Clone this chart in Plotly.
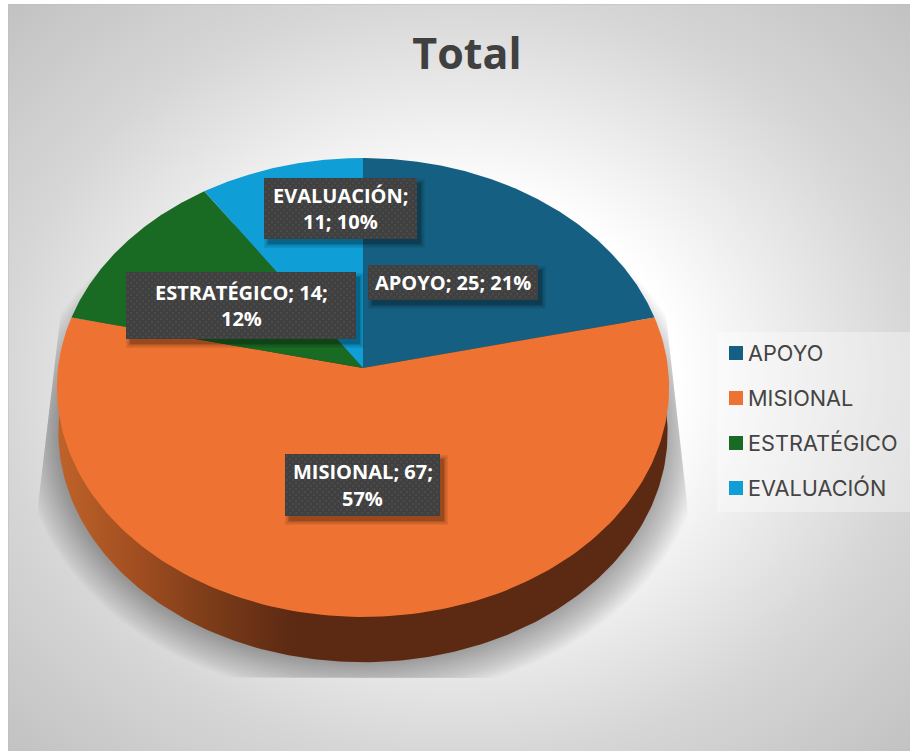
import numpy as np
import plotly.graph_objects as go

# ---- data ----
categories = ["APOYO", "MISIONAL", "ESTRATÉGICO", "EVALUACIÓN"]
values = [25, 67, 14, 11]
percents = [21, 57, 12, 10]
colors = ["#156082", "#EE7332", "#196B24", "#0F9ED5"]
title_text = "Total"
label_lines = [
    ["APOYO; 25; 21%"],
    ["MISIONAL; 67;", "57%"],
    ["ESTRATÉGICO; 14;", "12%"],
    ["EVALUACIÓN;", "11; 10%"],
]
# label box extents (left, right, top, bottom) on the pixel-like axes
label_boxes = [
    (368, 538, 265, 300),
    (285, 440, 454, 516),
    (126, 356, 272, 339),
    (264, 417, 178, 239),
]

# ---- layout constants ----
W, H = 910, 751
PX0, PY0 = 8, 4
CX, CY = 363, 368       # pie apex
BX, AY, K = 305.0, 227.8, -0.085   # perspective projection of the disc
BX2, AY2, YB = 303.5, 228.0, 413.0  # rim of the lower edge
LABEL_FONT = "Open Sans"
LEG_FONT = "Inter"
LINE_GAP = 26.5


def proj(theta, bx=BX, ay=AY, y0=CY, r=1.0):
    """theta clockwise from 12 o'clock, r in disc units; returns axis coords."""
    u = r * np.sin(theta)
    v = -r * np.cos(theta)
    d = 1 + K * v
    return CX + bx * u / d, y0 + ay * v / d


def poly(xs, ys, color, **kw):
    return go.Scatter(x=xs, y=ys, mode="lines", fill="toself", fillcolor=color,
                      line=dict(width=0), hoverinfo="skip", showlegend=False, **kw)


fig = go.Figure()

# background gradient panel
cx_bg, cy_bg = (PX0 + W) / 2, (PY0 + H) / 2
hw, hh = (W - PX0) / 2 * 2**0.5, (H - PY0) / 2 * 2**0.5
fig.add_trace(go.Scatter(
    x=[cx_bg - hw, cx_bg + hw, cx_bg + hw, cx_bg - hw, cx_bg - hw],
    y=[cy_bg - hh, cy_bg - hh, cy_bg + hh, cy_bg + hh, cy_bg - hh],
    mode="lines", line=dict(width=0), fill="toself", hoverinfo="skip", showlegend=False,
    fillgradient=dict(type="radial",
                      colorscale=[[0, "#FFFFFF"], [0.34, "#FFFFFF"], [0.72, "#D6D6D6"], [1, "#C2C2C2"]]),
))

# soft shadow under the pie, clipped by a trapezoid
th = np.linspace(0, 2 * np.pi, 361)
for k in np.linspace(36, 1, 18):
    sx, sy = proj(th, bx=BX2 + k, ay=AY2 + k * 0.92, y0=YB)
    sy = np.minimum(sy, 678)
    left = np.where(sy >= 505, 38, 38 + (505 - sy) * 15 / 127)
    right = np.where(sy >= 510, 688, 688 - (510 - sy) * 20 / 177)
    sx = np.clip(sx, left, right)
    fig.add_trace(poly(sx, sy, "rgba(0,0,0,0.02)"))

# side wall
wx, wy = proj(th, bx=BX2, ay=AY2, y0=YB)
fig.add_trace(go.Scatter(
    x=wx, y=wy, mode="lines", line=dict(width=0), fill="toself",
    hoverinfo="skip", showlegend=False,
    fillgradient=dict(type="horizontal", start=60, stop=668,
                      colorscale=[[0, "#BE6229"], [0.12, "#A34F21"], [0.24, "#7E3D19"],
                                  [0.38, "#5C2A13"], [1, "#5C2A13"]]),
))

# top face slices, computed from the values
total = sum(values)
start = 0.0
for name, val, col in zip(categories, values, colors):
    end = start + val / total * 2 * np.pi
    t = np.linspace(start, end, 160)
    x, y = proj(t)
    fig.add_trace(poly(np.r_[CX, x, CX], np.r_[CY, y, CY], col, name=name))
    start = end

# data-label boxes: shadow, box, dot texture
for (l, r, t, b) in label_boxes:
    for grow, alpha in [(4, 0.07), (2.5, 0.09), (1, 0.11), (0, 0.14)]:
        fig.add_trace(poly([l + 4 - grow, r + 4 + grow, r + 4 + grow, l + 4 - grow, l + 4 - grow],
                           [t + 5 - grow, t + 5 - grow, b + 5 + grow, b + 5 + grow, t + 5 - grow],
                           f"rgba(0,0,0,{alpha})"))
for (l, r, t, b) in label_boxes:
    fig.add_trace(poly([l, r, r, l, l], [t, t, b, b, t], "#404040"))
dx, dy = [], []
for (l, r, t, b) in label_boxes:
    for row, yy in enumerate(np.arange(t + 2, b, 3.0)):
        for xx in np.arange(l + 2 + (row % 2) * 3, r, 6.0):
            dx.append(float(xx))
            dy.append(float(yy))
fig.add_trace(go.Scatter(x=dx, y=dy, mode="markers", hoverinfo="skip", showlegend=False,
                         marker=dict(symbol="square", size=1.6, color="#525252", line=dict(width=0))))

annots = []
for lines, (l, r, t, b) in zip(label_lines, label_boxes):
    mid = (t + b) / 2
    n = len(lines)
    for i, text in enumerate(lines):
        annots.append(dict(x=(l + r) / 2, y=mid + (i - (n - 1) / 2) * LINE_GAP, xref="x", yref="y", text=text,
                           showarrow=False, xanchor="center", yanchor="middle", align="center",
                           font=dict(family=LABEL_FONT, size=20, color="#FFFFFF", weight="bold")))

# legend panel + entries
leg_y = [353, 398, 443, 488]
fig.add_trace(poly([717, 910, 910, 717, 717], [332, 332, 512, 512, 332], "rgba(255,255,255,0.35)"))
fig.add_trace(go.Scatter(
    x=[736] * 4, y=leg_y, mode="markers", hoverinfo="skip", showlegend=False,
    marker=dict(symbol="square", size=14, color=colors, line=dict(width=0)),
))
for name, yy in zip(categories, leg_y):
    annots.append(dict(x=746, y=yy, xref="x", yref="y", text=name, showarrow=False,
                       xanchor="left", yanchor="middle",
                       font=dict(family=LEG_FONT, size=21.7, color="#444444")))

fig.update_layout(
    width=W, height=H, margin=dict(l=0, r=0, t=0, b=0),
    paper_bgcolor="#FFFFFF", plot_bgcolor="#FFFFFF", showlegend=False,
    title=dict(text=title_text, x=467 / W, xanchor="center", y=1 - 54 / H, yanchor="middle",
               font=dict(family=LABEL_FONT, size=43, color="#404040", weight="bold")),
    xaxis=dict(range=[PX0, W], domain=[PX0 / W, 1], visible=False, fixedrange=True),
    yaxis=dict(range=[H, PY0], domain=[0, 1 - PY0 / H], visible=False, fixedrange=True),
    annotations=annots,
    shapes=[
        dict(type="line", xref="x", yref="y", x0=PX0, x1=PX0, y0=PY0, y1=H, line=dict(color="#BDBDBD", width=1)),
        dict(type="line", xref="x", yref="y", x0=PX0, x1=W, y0=PY0, y1=PY0, line=dict(color="#BDBDBD", width=1)),
    ],
)

fig.write_html("out.html", config=dict(displayModeBar=False),
               post_script="document.body.style.margin='0';document.body.style.overflow='hidden';")
